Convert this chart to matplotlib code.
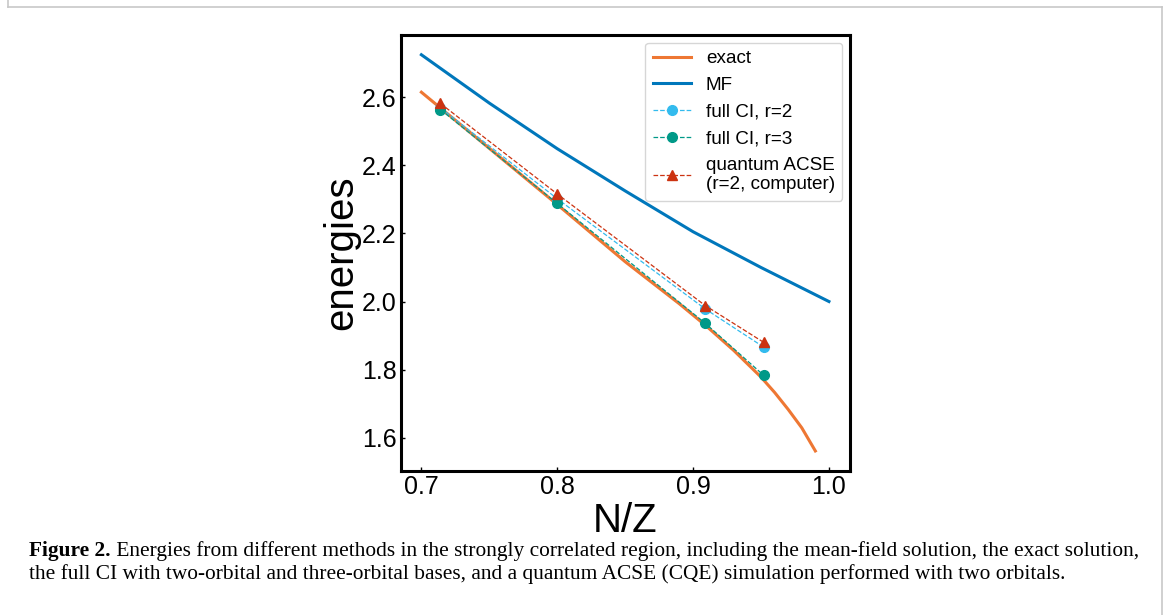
import matplotlib
matplotlib.use('Agg')
import matplotlib.pyplot as plt
from matplotlib.lines import Line2D

# Данные
x_exact = [0.70, 0.75, 0.80, 0.85, 0.89, 0.91, 0.93, 0.95, 0.96, 0.97, 0.98, 0.99]
e_exact = [2.615, 2.450, 2.285, 2.117, 1.993, 1.927, 1.856, 1.778, 1.733, 1.683, 1.629, 1.561]

x_mf = [0.70, 0.75, 0.80, 0.85, 0.90, 0.95, 1.00]
e_mf = [2.725, 2.583, 2.449, 2.325, 2.205, 2.100, 2.000]

x_pts = [0.714, 0.800, 0.909, 0.952]
e_ci2 = [2.569, 2.302, 1.978, 1.866]
e_ci3 = [2.564, 2.288, 1.936, 1.783]
e_acse = [2.582, 2.316, 1.988, 1.880]

x_ticks = [0.7, 0.8, 0.9, 1.0]
y_ticks = [1.6, 1.8, 2.0, 2.2, 2.4, 2.6]

caption_bold = 'Figure 2.'
caption_line1 = ('Energies from different methods in the strongly correlated region, '
                 'including the mean-field solution, the exact solution,')
caption_line2 = ('the full CI with two-orbital and three-orbital bases, and a quantum ACSE (CQE) '
                 'simulation performed with two orbitals.')

plt.rcParams['font.family'] = ['Liberation Sans', 'DejaVu Sans']

W, H = 1167, 615
fig = plt.figure(figsize=(W / 100, H / 100), dpi=100)
ax = fig.add_axes([401 / W, 1 - 470.7 / H, 449 / W, 435.7 / H])

ax.plot(x_exact, e_exact, color='#EE7733', lw=2.2, label='exact')
ax.plot(x_mf, e_mf, color='#0077BB', lw=2.2, label='MF')
ax.plot(x_pts, e_ci2, '--o', color='#33BBEE', lw=0.9, ms=7, label='full CI, r=2')
ax.plot(x_pts, e_ci3, '--o', color='#009988', lw=0.9, ms=7, label='full CI, r=3')
ax.plot(x_pts, e_acse, '--^', color='#CC3311', lw=0.9, ms=7,
        label='quantum ACSE\n(r=2, computer)')

ax.set_xlim(0.685, 1.0155)
ax.set_ylim(1.503, 2.783)
ax.set_xticks(x_ticks)
ax.set_yticks(y_ticks)
ax.tick_params(direction='in', length=3, width=1, labelsize=18, pad=3)
for s in ax.spines.values():
    s.set_linewidth(2.2)
ax.set_xlabel('N/Z', fontsize=29, labelpad=2)
ax.set_ylabel('energies', fontsize=29, labelpad=1)
ax.legend(loc='upper right', fontsize=13.6, borderaxespad=0.4, handlelength=2.0)

# Рамка вокруг рисунка
for xs, ys in [([7.5, 7.5], [0, 6.5]), ([7.5, 1161.5], [6.5, 6.5]), ([1161.5, 1161.5], [6.5, 615])]:
    fig.add_artist(Line2D([v / W for v in xs], [1 - v / H for v in ys],
                          color='#c8c8c8', lw=1.2, transform=fig.transFigure))

# Подпись к рисунку
serif = ['Liberation Serif', 'DejaVu Serif']
fs = 12
fig.canvas.draw()
r = fig.canvas.get_renderer()
tb = fig.text(29 / W, 1 - 556 / H, caption_bold, family=serif, weight='bold', fontsize=fs)
tl = fig.text(0, 1 - 556 / H, ' ' + caption_line1, family=serif, fontsize=fs)
w = tb.get_window_extent(r).width + tl.get_window_extent(r).width
fs = fs * (1134 - 29) / w
tb.set_fontsize(fs)
tl.set_fontsize(fs)
bb = tb.get_window_extent(r)
tl.set_x(bb.x1 / W)
fig.text(29 / W, 1 - 579 / H, caption_line2, family=serif, fontsize=fs)

fig.savefig('out.png', dpi=100)
